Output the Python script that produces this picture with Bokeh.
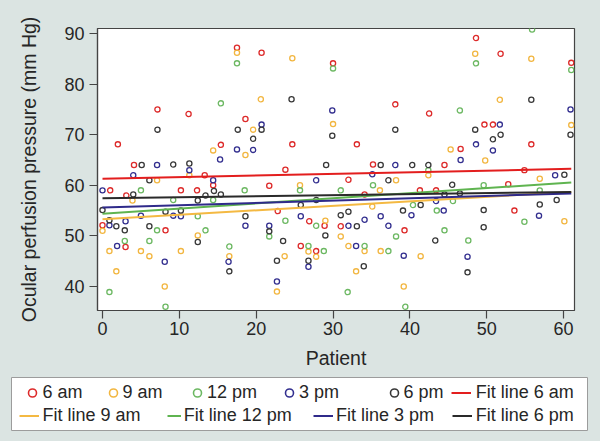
from bokeh.plotting import figure
from bokeh.models import Range1d, Legend, LegendItem
from bokeh.embed import file_html
from bokeh.resources import INLINE

# ---------------- data ----------------
am6_x = [0, 1, 2, 3.1, 3, 4.1, 7.15, 8.2, 10.2, 11.2, 12.3, 13.3, 14.4, 15.4, 17.5, 18.6, 20.7, 21.7, 22.8, 23.8,
         24.7, 25.8, 26.9, 27.8, 28.9, 30, 31, 32, 33.1, 34.1, 35.2, 38.1, 39.3, 41.3, 42.5, 43.4, 44.5, 46.6, 48.6, 49.7,
         50.8, 51.8, 52.8, 53.6, 54.9, 55.8, 61]
am6_y = [52.1, 59, 68.1, 58, 47.8, 64, 75, 51.1, 59, 74.1, 59, 62, 60, 68, 87.2, 73.1, 86.2, 59.9, 54.9, 63.1,
         68.1, 48, 52.9, 47, 52, 84.1, 51.9, 61.1, 68.1, 58.2, 64.1, 76, 51.1, 59, 74.2, 59, 64, 67.2, 89.1, 72,
         72, 86, 60.2, 55, 63, 68.1, 84.2]

am9_x = [0, 0.9, 1.8, 3.9, 5, 6.1, 7.1, 8.1, 10.2, 11.3, 12.4, 14.4, 16.5, 17.5, 18.6, 19.6, 20.6, 22.7, 23.7, 24.7,
         25.7, 26.8, 27.8, 29, 30, 31, 32, 33, 34.1, 35.1, 36.1, 36.2, 38.2, 39.2, 41.4, 42.4, 45.3, 48.5, 49.8, 51.7,
         55.8, 56.9, 60.1, 61]
am9_y = [51, 47, 43, 57, 47, 46, 61, 40, 47, 62, 50.1, 66.9, 46, 86.2, 66, 71, 77, 39, 46, 85.1,
         60, 46.9, 45.9, 53, 72.1, 49.9, 48, 43, 47, 55.8, 59, 47, 61, 40, 46, 62, 67.1, 86, 64.9, 76.9,
         85, 61.3, 52.9, 71.9]

pm12_x = [0.9, 2.9, 5, 6.1, 7.1, 8.2, 9.2, 12.4, 13.4, 14.4, 15.4, 16.5, 17.5, 18.5, 21.7, 23.8, 25.7, 26.8, 27.8, 28.8,
          30, 31, 31.9, 34.1, 35.2, 37.2, 38.2, 39.4, 40.4, 42.4, 43.5, 44.5, 45.6, 46.5, 47.6, 48.6, 49.6, 54.9, 55.9, 56.9,
          61]
pm12_y = [38.9, 49, 59, 49, 51.1, 36, 57.1, 53.9, 51.1, 57.1, 76.2, 47.9, 84.1, 59, 49.9, 53, 59, 48, 52, 47,
          83.1, 59, 38.9, 48, 60, 47, 49.9, 36, 56.1, 63, 55, 51.1, 56.9, 74.8, 49.1, 84.1, 60, 52.8, 90.8, 59,
          82.8]

pm3_x = [0, 0.9, 1.9, 3, 4, 5, 7.1, 8.1, 9.2, 10.2, 11.3, 14.4, 15.3, 16.4, 17.5, 18.6, 19.6, 20.7, 21.7, 22.7,
         25.8, 26.8, 27.8, 29.9, 32, 33, 34.1, 35.1, 36.2, 37.2, 38.1, 39.2, 40.2, 43.4, 44.4, 46.6, 47.5, 48.6, 50.8, 51.7,
         56.8, 58.9, 60.9]
pm3_y = [59, 52.1, 48, 52.9, 62, 54, 64, 44.9, 54, 53.9, 63, 61, 65.1, 44.9, 67.1, 52, 67, 72, 52, 41,
         53.9, 43.9, 61, 74.8, 52, 48, 53.2, 62.2, 53.9, 52, 64, 46.1, 54.1, 56.9, 55, 65, 45.9, 68.1, 66.9, 72,
         54, 62, 75]

pm6_x = [0, 0.9, 1.8, 2.9, 4, 5.1, 6.1, 6.1, 7.15, 8.2, 9.2, 10.2, 11.3, 12.4, 12.4, 13.4, 14.5, 15.4, 16.5, 17.6,
         18.6, 19.6, 20.7, 21.7, 22.7, 23.5, 24.6, 25.8, 26.8, 27.8, 29, 29.1, 29.9, 31, 32, 33.1, 34, 36.2, 37.2, 38.1,
         39.1, 40.3, 41.4, 42.4, 43.3, 44.5, 45.5, 46.5, 47.5, 48.5, 49.6, 49.6, 50.8, 51.8, 55.8, 56.9, 59.1, 60.1, 60.9]
pm6_y = [55.1, 53.1, 51.9, 51.1, 58.2, 64, 61, 51.9, 71, 54.8, 64.1, 55, 64.3, 57, 48.8, 58, 58.9, 58.2, 43, 71,
         53.9, 69.2, 71, 50.9, 45.1, 49, 77, 56.1, 45.1, 57.1, 50.1, 64, 69.8, 54.1, 54.8, 51.9, 44, 64, 61, 71,
         55, 64, 56.1, 64, 49.1, 58.2, 60.1, 58.4, 42.8, 71, 55.1, 51.7, 69.1, 70, 76.9, 56.2, 57.1, 62.1, 70]

series_names = ["6 am", "9 am", "12 pm", "3 pm", "6 pm"]
fit_names = ["Fit line 6 am", "Fit line 9 am", "Fit line 12 pm", "Fit line 3 pm", "Fit line 6 pm"]
fit_x = [0, 61]
fit_start = [61.3, 53.3, 54.4, 55.6, 57.45]
fit_end = [63.25, 58.7, 60.55, 58.4, 58.7]

x_ticks = [0, 10, 20, 30, 40, 50, 60]
y_ticks = [40, 50, 60, 70, 80, 90]

# ---------------- styling ----------------
BG = "#dbe4e2"
FONT = "Liberation Sans"
TXT = "#262626"
pt_colors = ["#dd2a2a", "#f2b640", "#6cb862", "#332f8f", "#383838"]
ln_colors = ["#e31e1e", "#f4b942", "#5fb450", "#2f2a8a", "#2a2a2a"]

xs = [am6_x, am9_x, pm12_x, pm3_x, pm6_x]
ys = [am6_y, am9_y, pm12_y, pm3_y, pm6_y]

p = figure(width=600, height=372, output_backend="svg", toolbar_location=None,
           x_range=Range1d(-0.65, 61.42), y_range=Range1d(35.26, 90.99),
           min_border_left=97, min_border_right=26, min_border_top=28, min_border_bottom=62,
           styles={"background-color": BG})
p.border_fill_color = BG
p.background_fill_color = "white"
p.outline_line_color = "#444444"
p.outline_line_width = 1.2
p.grid.visible = False

for i in range(5):
    p.scatter(xs[i], ys[i], marker="circle", size=5.2, fill_color=None,
              line_color=pt_colors[i], line_width=1.3)
for i in range(5):
    p.line(fit_x, [fit_start[i], fit_end[i]], line_color=ln_colors[i], line_width=2)

p.xaxis.ticker = x_ticks
p.yaxis.ticker = y_ticks
p.xaxis.axis_label = "Patient"
p.yaxis.axis_label = "Ocular perfusion pressure (mm Hg)"
for ax in (p.xaxis[0], p.yaxis[0]):
    ax.major_tick_out = 8
    ax.major_tick_in = 0
    ax.minor_tick_out = 0
    ax.minor_tick_in = 0
    ax.axis_line_color = "#444444"
    ax.axis_line_width = 1.2
    ax.major_tick_line_color = "#444444"
    ax.major_tick_line_width = 1.2
    ax.major_label_text_font = FONT
    ax.major_label_text_font_size = "18px"
    ax.major_label_text_color = TXT
    ax.axis_label_text_font = FONT
    ax.axis_label_text_font_size = "19.5px"
    ax.axis_label_text_font_style = "normal"
    ax.axis_label_text_color = TXT
p.xaxis.major_label_standoff = 3
p.xaxis.axis_label_standoff = 9
p.yaxis.major_label_standoff = 5
p.yaxis.axis_label_standoff = 21

# ---------------- legend panel ----------------
lg = figure(width=600, height=69, output_backend="svg", toolbar_location=None,
            x_range=Range1d(1000, 1001), y_range=Range1d(1000, 1001),
            x_axis_location=None, y_axis_location=None,
            min_border_left=11, min_border_right=13, min_border_top=5, min_border_bottom=11,
            styles={"background-color": BG})
lg.border_fill_color = BG
lg.background_fill_color = "white"
lg.outline_line_color = "#9c9c9c"
lg.outline_line_width = 1
lg.grid.visible = False

# legend-only renderers (their points lie outside this panel's ranges)
key_pts = []
key_lns = []
for i in range(5):
    key_pts.append(lg.scatter(xs[i], ys[i], marker="circle", size=8, fill_color=None,
                              line_color=pt_colors[i], line_width=1.6))
    key_lns.append(lg.line(fit_x, [fit_start[i], fit_end[i]], line_color=ln_colors[i], line_width=2))

# legend entry layout: (label, renderer, left px in page, bottom offset from box bottom, glyph width, standoff)
FRAME_LEFT = 11
entries = [
    (series_names[0], key_pts[0], 21.5, 25.5, 20, 1),
    (series_names[1], key_pts[1], 102.5, 25.5, 20, 0),
    (series_names[2], key_pts[2], 187.0, 25.5, 20, 0),
    (series_names[3], key_pts[3], 279.0, 25.5, 20, 0),
    (series_names[4], key_pts[4], 383.5, 25.5, 20, 0),
    (fit_names[0], key_lns[0], 450.7, 25.5, 20, 5),
    (fit_names[1], key_lns[1], 18.5, 2.5, 20, 4),
    (fit_names[2], key_lns[2], 166.7, 2.5, 14, 3),
    (fit_names[3], key_lns[3], 313.0, 2.5, 20, 3),
    (fit_names[4], key_lns[4], 451.7, 2.5, 20, 4),
]
for label, rend, left, bottom, gw, so in entries:
    leg = Legend(items=[LegendItem(label=label, renderers=[rend])],
                 location=(left - FRAME_LEFT, bottom), orientation="horizontal",
                 padding=0, margin=0, spacing=0, border_line_color=None,
                 background_fill_alpha=0, glyph_width=gw, glyph_height=25,
                 label_standoff=so, label_text_font=FONT, label_text_font_size="18px",
                 label_text_color=TXT)
    lg.add_layout(leg, "center")

open("out.html", "w").write(file_html([p, lg], INLINE))
